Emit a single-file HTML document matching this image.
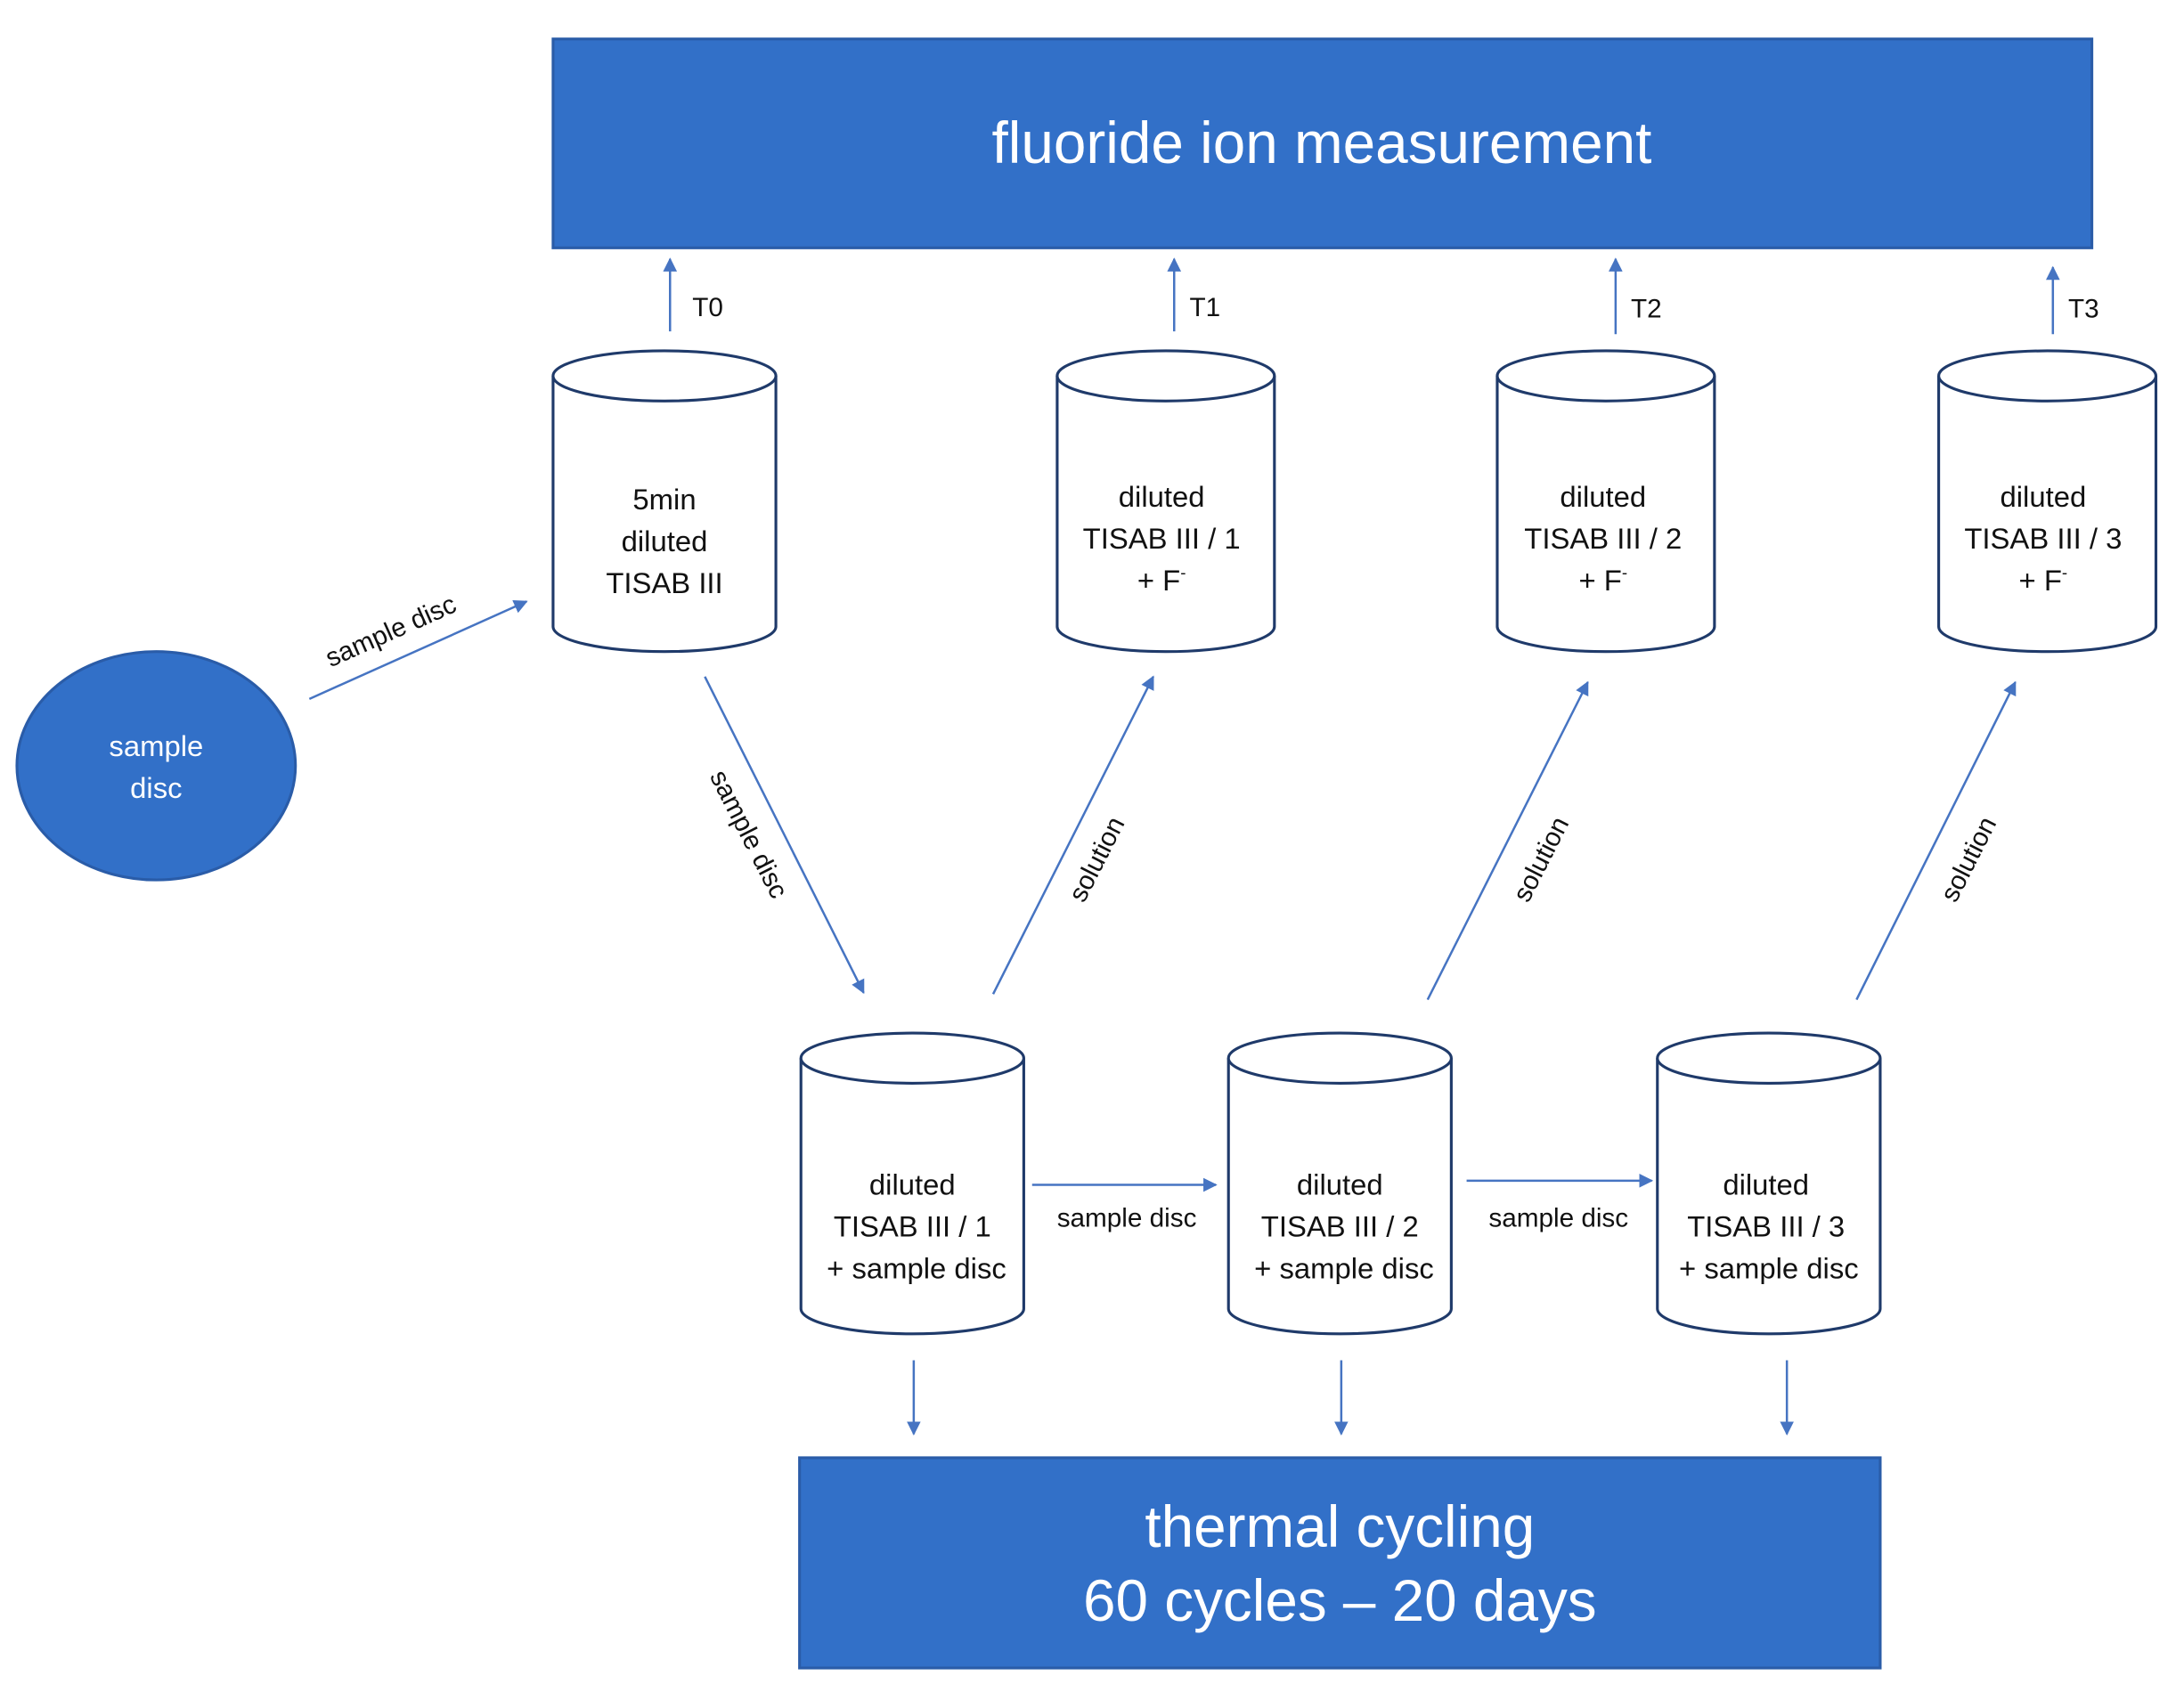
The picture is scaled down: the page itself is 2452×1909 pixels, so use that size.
<!DOCTYPE html>
<html><head><meta charset="utf-8"><style>html,body{margin:0;padding:0;background:#fff}svg{display:block}</style></head>
<body>
<svg width="2452" height="1909" viewBox="0 0 1568 1221" xmlns="http://www.w3.org/2000/svg" font-family="Liberation Sans, sans-serif">
<defs>
<marker id="a" markerWidth="10" markerHeight="10" refX="9" refY="5" orient="auto" markerUnits="userSpaceOnUse"><path d="M0,0 L10,5 L0,10 Z" fill="#4674c2"/></marker>
</defs>
<rect width="1568" height="1221" fill="#fff"/>
<rect x="397" y="28" width="1105" height="150" fill="#3270c8" stroke="#2a5ca8" stroke-width="2"/>
<text x="949" y="117" font-size="42" fill="#fff" text-anchor="middle">fluoride ion measurement</text>
<rect x="574" y="1047" width="776" height="151" fill="#3270c8" stroke="#2a5ca8" stroke-width="2"/>
<text x="962" y="1111" font-size="42" fill="#fff" text-anchor="middle">thermal cycling</text>
<text x="962" y="1164" font-size="42" fill="#fff" text-anchor="middle">60 cycles – 20 days</text>
<ellipse cx="112" cy="550" rx="100" ry="82" fill="#3270c8" stroke="#2a5ca8" stroke-width="2"/>
<text x="112" y="543" font-size="21" fill="#fff" text-anchor="middle">sample</text>
<text x="112" y="573" font-size="21" fill="#fff" text-anchor="middle">disc</text>
<g fill="#fff" stroke="#1f3a6a" stroke-width="2">
<path d="M397,270 V450 A80,18 0 0 0 557,450 V270"/><ellipse cx="477" cy="270" rx="80" ry="18"/>
<path d="M759,270 V450 A78,18 0 0 0 915,450 V270"/><ellipse cx="837" cy="270" rx="78" ry="18"/>
<path d="M1075,270 V450 A78,18 0 0 0 1231,450 V270"/><ellipse cx="1153" cy="270" rx="78" ry="18"/>
<path d="M1392,270 V450 A78,18 0 0 0 1548,450 V270"/><ellipse cx="1470" cy="270" rx="78" ry="18"/>
<path d="M575,760 V940 A80,18 0 0 0 735,940 V760"/><ellipse cx="655" cy="760" rx="80" ry="18"/>
<path d="M882,760 V940 A80,18 0 0 0 1042,940 V760"/><ellipse cx="962" cy="760" rx="80" ry="18"/>
<path d="M1190,760 V940 A80,18 0 0 0 1350,940 V760"/><ellipse cx="1270" cy="760" rx="80" ry="18"/>
</g>
<g font-size="21" fill="#111" text-anchor="middle">
<text x="477" y="366">5min</text><text x="477" y="396">diluted</text><text x="477" y="426">TISAB III</text>
<text x="834" y="364">diluted</text><text x="834" y="394">TISAB III / 1</text><text x="834" y="424">+ F<tspan font-size="12" dy="-9">-</tspan></text>
<text x="1151" y="364">diluted</text><text x="1151" y="394">TISAB III / 2</text><text x="1151" y="424">+ F<tspan font-size="12" dy="-9">-</tspan></text>
<text x="1467" y="364">diluted</text><text x="1467" y="394">TISAB III / 3</text><text x="1467" y="424">+ F<tspan font-size="12" dy="-9">-</tspan></text>
<text x="655" y="858">diluted</text><text x="655" y="888">TISAB III / 1</text><text x="658" y="918">+ sample disc</text>
<text x="962" y="858">diluted</text><text x="962" y="888">TISAB III / 2</text><text x="965" y="918">+ sample disc</text>
<text x="1268" y="858">diluted</text><text x="1268" y="888">TISAB III / 3</text><text x="1270" y="918">+ sample disc</text>
</g>
<g stroke="#4674c2" stroke-width="1.6" fill="none" marker-end="url(#a)">
<line x1="481" y1="238" x2="481" y2="186"/>
<line x1="843" y1="238" x2="843" y2="186"/>
<line x1="1160" y1="240" x2="1160" y2="186"/>
<line x1="1474" y1="240" x2="1474" y2="192"/>
<line x1="222" y1="502" x2="378" y2="432"/>
<line x1="506" y1="486" x2="620" y2="713"/>
<line x1="713" y1="714" x2="828" y2="486"/>
<line x1="1025" y1="718" x2="1140" y2="490"/>
<line x1="1333" y1="718" x2="1447" y2="490"/>
<line x1="741" y1="851" x2="873" y2="851"/>
<line x1="1053" y1="848" x2="1186" y2="848"/>
<line x1="656" y1="977" x2="656" y2="1030"/>
<line x1="963" y1="977" x2="963" y2="1030"/>
<line x1="1283" y1="977" x2="1283" y2="1030"/>
</g>
<g font-size="19" fill="#111">
<text x="497" y="227">T0</text><text x="854" y="227">T1</text><text x="1171" y="228">T2</text><text x="1485" y="228">T3</text>
<text x="809" y="881" text-anchor="middle">sample disc</text>
<text x="1119" y="881" text-anchor="middle">sample disc</text>
<text transform="translate(283,459) rotate(-24)" text-anchor="middle">sample disc</text>
<text transform="translate(532,602) rotate(63)" text-anchor="middle">sample disc</text>
<text transform="translate(793,620) rotate(-63)" text-anchor="middle">solution</text>
<text transform="translate(1112,620) rotate(-63)" text-anchor="middle">solution</text>
<text transform="translate(1419,620) rotate(-63)" text-anchor="middle">solution</text>
</g>
</svg>
</body></html>
